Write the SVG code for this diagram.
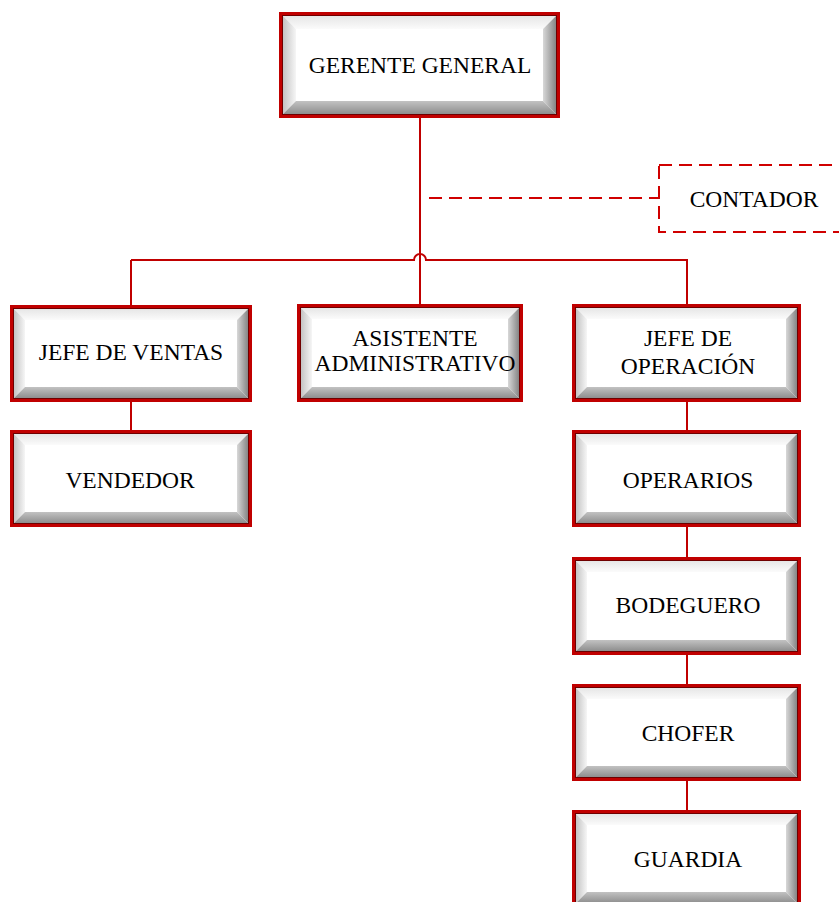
<svg xmlns="http://www.w3.org/2000/svg" width="839" height="902" viewBox="0 0 839 902">
<defs>
<linearGradient id="gTop" x1="0" y1="0" x2="0" y2="1"><stop offset="0" stop-color="#e6e6e6"/><stop offset="1" stop-color="#fbfbfb"/></linearGradient>
<linearGradient id="gLeft" x1="0" y1="0" x2="1" y2="0"><stop offset="0" stop-color="#c4c4c4"/><stop offset="1" stop-color="#f6f6f6"/></linearGradient>
<linearGradient id="gRight" x1="0" y1="0" x2="1" y2="0"><stop offset="0" stop-color="#d8d8d8"/><stop offset="1" stop-color="#858585"/></linearGradient>
<linearGradient id="gBottom" x1="0" y1="0" x2="0" y2="1"><stop offset="0" stop-color="#c2c2c2"/><stop offset="1" stop-color="#8e8e8e"/></linearGradient>
</defs>
<style>
.bg{fill:#ffffff}
.bt{fill:url(#gTop)}
.bl{fill:url(#gLeft)}
.br{fill:url(#gRight)}
.bb{fill:url(#gBottom)}
.bo{fill:none;stroke:#c00000;stroke-width:3}
.bi{fill:none;stroke:#6e0000;stroke-width:1}
.ln{fill:none;stroke:#c00000;stroke-width:2}
.dl{fill:none;stroke:#d00000;stroke-width:2;stroke-dasharray:13 7}
text{font-family:"Liberation Serif","Times New Roman",serif;font-size:23.5px;fill:#000;text-anchor:middle}
</style>
<rect width="839" height="902" fill="#ffffff"/>
<g id="connectors">
<line class="ln" x1="420" y1="118" x2="420" y2="304"/>
<path class="ln" d="M131,260 H414 A6,6 0 0 1 426,260 H687"/>
<line class="ln" x1="131" y1="260" x2="131" y2="305"/>
<line class="ln" x1="687" y1="259" x2="687" y2="304"/>
<line class="ln" x1="131" y1="402" x2="131" y2="430"/>
<line class="ln" x1="687" y1="402" x2="687" y2="430"/>
<line class="ln" x1="687" y1="527" x2="687" y2="557"/>
<line class="ln" x1="687" y1="655" x2="687" y2="684"/>
<line class="ln" x1="687" y1="781" x2="687" y2="810"/>
<line class="dl" x1="429" y1="198" x2="658" y2="198"/>
</g>
<g id="gerente-general">
<rect class="bg" x="281" y="14" width="277" height="102"/>
<polygon class="bt" points="283,16 556,16 543,29 296,29"/>
<polygon class="bl" points="283,16 296,29 296,101 283,114"/>
<polygon class="br" points="556,16 556,114 543,101 543,29"/>
<polygon class="bb" points="283,114 556,114 543,101 296,101"/>
<rect class="bo" x="280.5" y="13.5" width="278" height="103"/>
<rect class="bi" x="282.5" y="15.5" width="274" height="99"/>
<text x="420" y="73" font-size="24">GERENTE GENERAL</text>
</g>
<g id="contador">
<rect x="659" y="165" width="210" height="67" fill="#ffffff" stroke="#d00000" stroke-width="2" stroke-dasharray="13 7"/>
<text x="754" y="207">CONTADOR</text>
</g>
<g id="jefe-de-ventas">
<rect class="bg" x="12" y="307" width="238" height="93"/>
<polygon class="bt" points="14,309 248,309 237,320 25,320"/>
<polygon class="bl" points="14,309 25,320 25,387 14,398"/>
<polygon class="br" points="248,309 248,398 237,387 237,320"/>
<polygon class="bb" points="14,398 248,398 237,387 25,387"/>
<rect class="bo" x="11.5" y="306.5" width="239" height="94"/>
<rect class="bi" x="13.5" y="308.5" width="235" height="90"/>
<text x="131" y="360">JEFE DE VENTAS</text>
</g>
<g id="asistente-administrativo">
<rect class="bg" x="299" y="306" width="222" height="94"/>
<polygon class="bt" points="301,308 519,308 508,319 312,319"/>
<polygon class="bl" points="301,308 312,319 312,387 301,398"/>
<polygon class="br" points="519,308 519,398 508,387 508,319"/>
<polygon class="bb" points="301,398 519,398 508,387 312,387"/>
<rect class="bo" x="298.5" y="305.5" width="223" height="95"/>
<rect class="bi" x="300.5" y="307.5" width="219" height="91"/>
<text x="415" y="346" font-size="19.5">ASISTENTE</text>
<text x="415" y="371" font-size="19.5">ADMINISTRATIVO</text>
</g>
<g id="jefe-de-operacion">
<rect class="bg" x="574" y="306" width="225" height="94"/>
<polygon class="bt" points="576,308 797,308 786,319 587,319"/>
<polygon class="bl" points="576,308 587,319 587,387 576,398"/>
<polygon class="br" points="797,308 797,398 786,387 786,319"/>
<polygon class="bb" points="576,398 797,398 786,387 587,387"/>
<rect class="bo" x="573.5" y="305.5" width="226" height="95"/>
<rect class="bi" x="575.5" y="307.5" width="222" height="91"/>
<text x="688" y="346">JEFE DE</text>
<text x="688" y="374">OPERACIÓN</text>
</g>
<g id="vendedor">
<rect class="bg" x="12" y="432" width="238" height="93"/>
<polygon class="bt" points="14,434 248,434 237,445 25,445"/>
<polygon class="bl" points="14,434 25,445 25,512 14,523"/>
<polygon class="br" points="248,434 248,523 237,512 237,445"/>
<polygon class="bb" points="14,523 248,523 237,512 25,512"/>
<rect class="bo" x="11.5" y="431.5" width="239" height="94"/>
<rect class="bi" x="13.5" y="433.5" width="235" height="90"/>
<text x="130" y="488">VENDEDOR</text>
</g>
<g id="operarios">
<rect class="bg" x="574" y="432" width="225" height="93"/>
<polygon class="bt" points="576,434 797,434 786,445 587,445"/>
<polygon class="bl" points="576,434 587,445 587,512 576,523"/>
<polygon class="br" points="797,434 797,523 786,512 786,445"/>
<polygon class="bb" points="576,523 797,523 786,512 587,512"/>
<rect class="bo" x="573.5" y="431.5" width="226" height="94"/>
<rect class="bi" x="575.5" y="433.5" width="222" height="90"/>
<text x="688" y="488">OPERARIOS</text>
</g>
<g id="bodeguero">
<rect class="bg" x="574" y="559" width="225" height="94"/>
<polygon class="bt" points="576,561 797,561 786,572 587,572"/>
<polygon class="bl" points="576,561 587,572 587,640 576,651"/>
<polygon class="br" points="797,561 797,651 786,640 786,572"/>
<polygon class="bb" points="576,651 797,651 786,640 587,640"/>
<rect class="bo" x="573.5" y="558.5" width="226" height="95"/>
<rect class="bi" x="575.5" y="560.5" width="222" height="91"/>
<text x="688" y="613" font-size="21.5">BODEGUERO</text>
</g>
<g id="chofer">
<rect class="bg" x="574" y="686" width="225" height="93"/>
<polygon class="bt" points="576,688 797,688 786,699 587,699"/>
<polygon class="bl" points="576,688 587,699 587,766 576,777"/>
<polygon class="br" points="797,688 797,777 786,766 786,699"/>
<polygon class="bb" points="576,777 797,777 786,766 587,766"/>
<rect class="bo" x="573.5" y="685.5" width="226" height="94"/>
<rect class="bi" x="575.5" y="687.5" width="222" height="90"/>
<text x="688" y="741">CHOFER</text>
</g>
<g id="guardia">
<rect class="bg" x="574" y="812" width="225" height="93"/>
<polygon class="bt" points="576,814 797,814 786,825 587,825"/>
<polygon class="bl" points="576,814 587,825 587,892 576,903"/>
<polygon class="br" points="797,814 797,903 786,892 786,825"/>
<polygon class="bb" points="576,903 797,903 786,892 587,892"/>
<rect class="bo" x="573.5" y="811.5" width="226" height="94"/>
<rect class="bi" x="575.5" y="813.5" width="222" height="90"/>
<text x="688" y="867">GUARDIA</text>
</g>
</svg>
